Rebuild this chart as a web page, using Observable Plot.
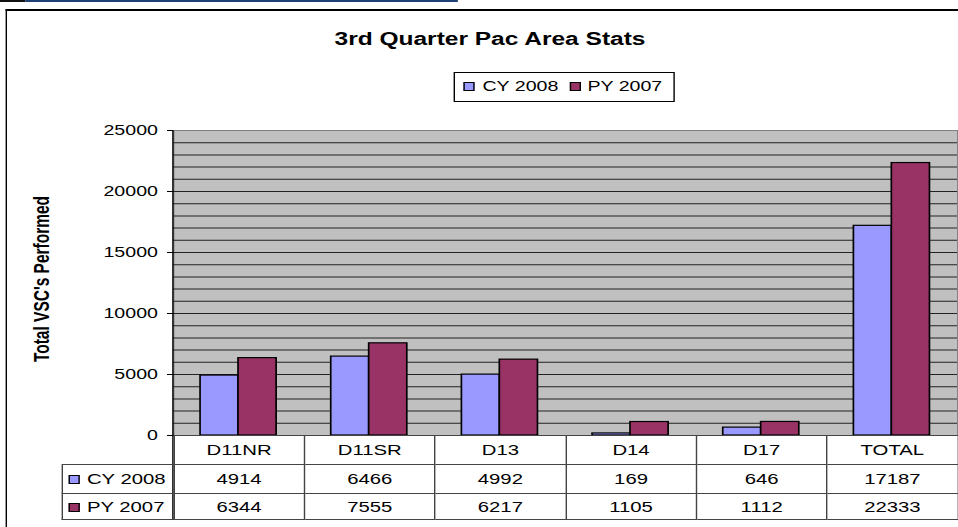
<!DOCTYPE html>
<html><head><meta charset="utf-8">
<script src="https://cdn.jsdelivr.net/npm/d3@7"></script>
<script src="https://cdn.jsdelivr.net/npm/@observablehq/plot@0.6"></script>
<style>
html,body{margin:0;padding:0;background:#fff;overflow:hidden;width:958px;height:527px;}
#wrap{position:absolute;left:0;top:0;width:685px;height:527px;transform:scaleX(1.4);transform-origin:0 0;font-family:'Liberation Sans',Arial,sans-serif;color:#000;}
#tlb{position:absolute;left:0;top:0;width:17.9px;height:2px;background:#111;}
#tlc{position:absolute;left:17.9px;top:0;width:309px;height:2px;background:#1F3F77;}
#border{position:absolute;left:4.3px;top:9px;width:800px;height:600px;border-top:2px solid #000;border-left:1.5px solid #000;}
#title{position:absolute;left:0;top:31.3px;width:700px;text-align:center;font-weight:bold;font-size:17.5px;line-height:17.5px;white-space:nowrap;}
#legend{position:absolute;left:324.3px;top:72px;width:156px;height:28px;border:1px solid #000;background:#fff;font-size:14px;}
#legend .sw{position:absolute;top:8.5px;width:5.6px;height:7px;border:1px solid #000;}
#legend .tx{position:absolute;top:5px;line-height:16px;white-space:nowrap;}
#chart{position:absolute;left:0;top:0;}
#ylabel{position:absolute;left:29.5px;top:279px;transform:translate(-50%,-50%) rotate(-90deg);font-weight:bold;font-size:15.5px;white-space:nowrap;}
#axisline{position:absolute;left:123.1px;top:130px;width:1px;height:390px;background:#000;}
#tbl{position:absolute;left:44.3px;top:435px;border-collapse:collapse;table-layout:fixed;width:639.3px;font-size:14.5px;}
#tbl td{border:1px solid #444;text-align:center;padding:0;vertical-align:middle;white-space:nowrap;overflow:hidden;}
#tbl td.corner{border-top:none;border-left:none;}
#tbl td.lab{text-align:left;padding-left:4px;}
#tbl .sw{display:inline-block;width:5.8px;height:7px;border:1px solid #000;margin-right:5px;vertical-align:0px;}
#tbl tr.hdr td{height:28px;}
#tbl tr.r0 td{height:28px;}
#tbl tr.r1 td{height:25px;}
</style></head><body>
<div id="wrap">
  <div id="tlb"></div><div id="tlc"></div>
  <div id="border"></div>
  <div id="chart"></div>
  <div id="axisline"></div>
  <div id="title">3rd Quarter Pac Area Stats</div>
  <div id="legend"></div>
  <div id="ylabel">Total VSC's Performed</div>
  <table id="tbl"></table>
</div>
<script>
const categories = ["D11NR", "D11SR", "D13", "D14", "D17", "TOTAL"];
const cy2008 = [4914, 6466, 4992, 169, 646, 17187];
const py2007 = [6344, 7555, 6217, 1105, 1112, 22333];
const seriesNames = ["CY 2008", "PY 2007"];
const seriesColors = ["#9999FF", "#993366"];
const yMax = 25000;
const gridStep = 1000;

const rows = categories.map((c, i) => ({category: c, cy: cy2008[i], py: py2007[i]}));
const gridValues = d3.range(0, yMax, gridStep);

const chart = Plot.plot({
  width: 685,
  height: 527,
  marginLeft: 123.6,
  marginRight: 1.4,
  marginTop: 130,
  marginBottom: 92,
  style: {fontFamily: "'Liberation Sans', Arial, sans-serif", fontSize: "14px", color: "#000", background: "transparent", overflow: "visible"},
  x: {domain: categories, padding: 0, round: false, axis: null},
  y: {domain: [0, yMax], ticks: 5, tickFormat: d => String(d), tickSize: 4.3, tickPadding: 7, label: null},
  marks: [
    Plot.frame({fill: "#C0C0C0", stroke: "#808080"}),
    Plot.ruleY(gridValues, {stroke: "#222", strokeWidth: 1}),
    Plot.barY(rows, {x: "category", y: "cy", fill: seriesColors[0], stroke: "#000", strokeWidth: 1.2, insetLeft: 19.3, insetRight: 46.9}),
    Plot.barY(rows, {x: "category", y: "py", fill: seriesColors[1], stroke: "#000", strokeWidth: 1.2, insetLeft: 46.4, insetRight: 19.7})
  ]
});
document.getElementById("chart").appendChild(chart);

// legend
const legend = document.getElementById("legend");
const legPos = [[6.2, 19.3], [82.1, 94.3]];
seriesNames.forEach((name, k) => {
  const sw = document.createElement("div");
  sw.className = "sw";
  sw.style.left = legPos[k][0] + "px";
  sw.style.background = seriesColors[k];
  legend.appendChild(sw);
  const tx = document.createElement("div");
  tx.className = "tx";
  tx.style.left = legPos[k][1] + "px";
  tx.textContent = name;
  legend.appendChild(tx);
});

// data table
const tbl = document.getElementById("tbl");
let html = "<colgroup><col style='width:79.3px'>" + categories.map(() => "<col style='width:93.33px'>").join("") + "</colgroup>";
html += "<tr class='hdr'><td class='corner'></td>" + categories.map(c => `<td>${c}</td>`).join("") + "</tr>";
[cy2008, py2007].forEach((vals, k) => {
  html += `<tr class='r${k}'><td class='lab'><span class='sw' style='background:${seriesColors[k]}'></span>${seriesNames[k]}</td>` +
    vals.map(v => `<td>${v}</td>`).join("") + "</tr>";
});
tbl.innerHTML = html;
</script>
</body></html>
